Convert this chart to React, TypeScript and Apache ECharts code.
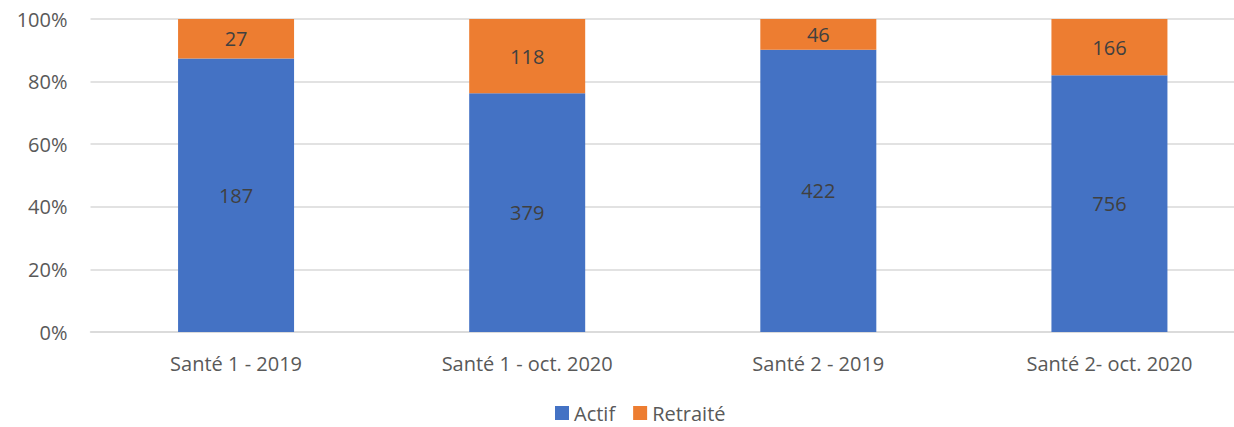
import React, { useEffect, useRef } from "react";
import * as echarts from "echarts";

const categories = ["Santé 1 - 2019", "Santé 1 - oct. 2020", "Santé 2 - 2019", "Santé 2- oct. 2020"];
const actif = [187, 379, 422, 756];
const retraite = [27, 118, 46, 166];
const yTicks = [0, 20, 40, 60, 80, 100];

export default function App() {
  const ref = useRef<HTMLDivElement>(null);
  useEffect(() => {
    if (!ref.current) return;
    const chart = echarts.init(ref.current, null, { renderer: "svg" });
    const totals = actif.map((a, i) => a + retraite[i]);
    const pct = (arr: number[]) => arr.map((v, i) => (v / totals[i]) * 100);
    const font = "'Open Sans', Lato, sans-serif";
    const fs = 20;
    chart.setOption({
      animation: false,
      textStyle: { fontFamily: font },
      grid: { left: 90.5, right: 0, top: 19, bottom: 95 },
      legend: {
        top: 403,
        left: 555,
        padding: 0,
        itemWidth: 14,
        itemHeight: 14,
        itemGap: 18,
        icon: "rect",
        textStyle: { fontSize: fs, color: "#595959", fontFamily: font, lineHeight: 20 },
        data: ["Actif", "Retraité"],
      },
      xAxis: {
        type: "category",
        data: categories,
        axisTick: { show: false },
        axisLine: { lineStyle: { color: "#D9D9D9", width: 1.5 } },
        axisLabel: { fontSize: fs, color: "#595959", margin: 21, fontFamily: font },
      },
      yAxis: {
        type: "value",
        min: yTicks[0],
        max: yTicks[yTicks.length - 1],
        interval: 20,
        axisLine: { show: false },
        axisTick: { show: false },
        splitLine: { lineStyle: { color: "#D9D9D9", width: 1.5 } },
        axisLabel: { fontSize: fs, color: "#595959", margin: 23, formatter: "{value}%", fontFamily: font },
      },
      series: [
        {
          name: "Actif",
          type: "bar",
          stack: "total",
          barWidth: 116,
          data: pct(actif),
          itemStyle: { color: "#4472C4" },
          label: {
            show: true,
            position: "inside",
            fontSize: fs,
            color: "#404040",
            fontFamily: font,
            formatter: (p: any) => String(actif[p.dataIndex]),
          },
        },
        {
          name: "Retraité",
          type: "bar",
          stack: "total",
          barWidth: 116,
          data: pct(retraite),
          itemStyle: { color: "#ED7D31" },
          label: {
            show: true,
            position: "inside",
            fontSize: fs,
            color: "#404040",
            fontFamily: font,
            formatter: (p: any) => String(retraite[p.dataIndex]),
          },
        },
      ],
    });
    return () => chart.dispose();
  }, []);
  return (
    <div style={{ position: "absolute", left: 0, top: 0, width: 1234, height: 427, overflow: "hidden", background: "#fff" }}>
      <div ref={ref} style={{ width: 1255, height: 427 }} />
    </div>
  );
}
